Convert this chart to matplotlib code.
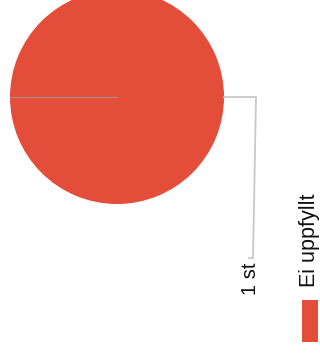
import matplotlib
matplotlib.use('Agg')
from matplotlib import pyplot as plt
from matplotlib.patches import Rectangle

# data
kategorier = ['Ei uppfyllt']
antal = [1]
farger = ['#e54d3b']
etiketter = ['%i st' % v for v in antal]

plt.rcParams['font.family'] = ['Liberation Sans', 'DejaVu Sans']

fig = plt.figure(figsize=(3.2, 3.56), dpi=100)
ax = fig.add_axes([0, 0, 1, 1])

cx, cy, r = 117, 97, 107
ax.pie(antal, colors=farger, startangle=180, center=(cx, cy), radius=r,
       wedgeprops={'edgecolor': 'none'})
# kantlinje for skivan (fran mitten till vanster)
ax.plot([cx - r, cx], [cy, cy], color='#b08880', lw=0.9)
ax.set_xlim(0, 320)
ax.set_ylim(356, 0)
ax.set_aspect('equal')
ax.axis('off')

# etikett med linje
lx = cx + r + 32
ax.plot([cx + r, lx, lx - 3, lx - 7], [cy, cy, cy + 161, cy + 161],
        color='#c8c8c8', lw=1.3, solid_joinstyle='miter')
ax.text(lx - 5, cy + 182, etiketter[0], rotation=90, ha='center', va='center',
        fontsize=14.5, color='#111111')

# legend (roterad)
ax.add_patch(Rectangle((302, 300), 16, 42, facecolor=farger[0], edgecolor='none'))
ax.text(310, 240, kategorier[0], rotation=90, ha='center', va='center',
        fontsize=15.5, color='#111111')

fig.savefig('out.png', dpi=100)
